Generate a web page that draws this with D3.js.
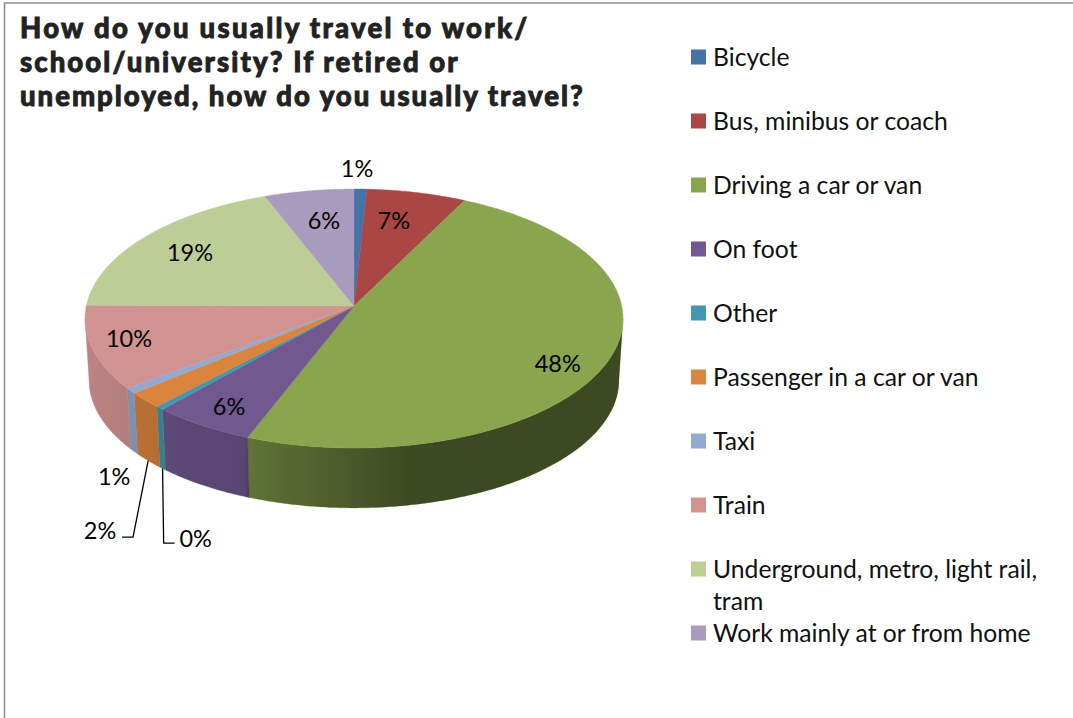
<!DOCTYPE html>
<html><head><meta charset="utf-8">
<script src="https://cdnjs.cloudflare.com/ajax/libs/d3/7.8.5/d3.min.js"></script>
<style>html,body{margin:0;padding:0;background:#fff;overflow:hidden}svg{display:block}</style>
</head><body><svg id="c" width="1073" height="718"></svg>
<script>
// Data
const categories = ["Bicycle","Bus, minibus or coach","Driving a car or van","On foot","Other","Passenger in a car or van","Taxi","Train","Underground, metro, light rail, tram","Work mainly at or from home"];
const values = [0.85,6.55,48.49,5.66,0.45,2.0,0.7,10.4,19.0,5.9];
const colors = ["#4573a7","#aa4644","#89a54e","#71588f","#4298af","#db843d","#93a9cf","#d19392","#bdcd96","#a99bbd"];
const titleLines = ["How do you usually travel to work/","school/university? If retired or","unemployed, how do you usually travel?"];
const legendLines = [["Bicycle"],["Bus, minibus or coach"],["Driving a car or van"],["On foot"],["Other"],["Passenger in a car or van"],["Taxi"],["Train"],["Underground, metro, light rail,","tram"],["Work mainly at or from home"]];
// Label offsets from the rim point at each slice's mid-angle
const labelDx = [-3.5,-23,-51,27,36,-45,-16.5,37,45,15];
const labelDy = [-21,28,3,-19,130,130,86,-9,15,30];
// Leader elbow offsets from the label centre, keyed by slice index
const leaders = {4:{knee:[-32,5],end:[-21,5]},5:{knee:[33,7],end:[22,7]}};

// Layout
const cx=354, cy=306, A=267.7, B=128.3, P=0.0966, wallDrop=62, wallScale=0.985;
const svg=d3.select("#c");
const pie=d3.pie().sort(null).value(d=>d)(values);
const topPt=t=>{const w=1+P*Math.cos(t);return [cx+A*Math.sin(t)/w, cy-B*Math.cos(t)/w];};
const botPt=t=>{const p=topPt(t);return [cx+(p[0]-cx)*wallScale, cy+(p[1]-cy)*wallScale+wallDrop];};
const line=d3.line();
const samples=(a,b,f)=>{const n=Math.max(2,Math.ceil(Math.abs(b-a)/0.01));return d3.range(n+1).map(i=>f(a+(b-a)*i/n));};

// Frame
svg.append("path").attr("d",`M4.5,718V3H1073`).attr("fill","none").attr("stroke","#8e8e8e").attr("stroke-width",1.6);

// Wall shading
const defs=svg.append("defs");
const xs=d3.scaleLinear().domain([85,623]).range([0,1]);
const grad=defs.append("linearGradient").attr("id","shade").attr("gradientUnits","userSpaceOnUse")
  .attr("x1",85).attr("x2",623).attr("y1",0).attr("y2",0);
[[85,.1],[130,.15],[245,.22],[247,.3],[413,.56],[623,.56]].forEach(s=>
  grad.append("stop").attr("offset",xs(s[0])).attr("stop-color","#000").attr("stop-opacity",s[1]));

// Walls (front half of the rim only)
const wallLo=Math.acos(-P), wallHi=2*Math.PI-Math.acos(-P);
const walls=pie.map((d,i)=>{
  const a=Math.max(d.startAngle,wallLo), b=Math.min(d.endAngle,wallHi);
  if(b<=a) return null;
  return {i, path: line(samples(a,b,topPt).concat(samples(b,a,botPt)))+"Z"};
}).filter(Boolean);
const wg=svg.append("g");
wg.selectAll("path.base").data(walls).join("path").attr("class","base").attr("d",d=>d.path)
  .attr("fill",d=>colors[d.i]).attr("stroke",d=>colors[d.i]).attr("stroke-width",.4);
wg.selectAll("path.ov").data(walls).join("path").attr("class","ov").attr("d",d=>d.path).attr("fill","url(#shade)");

// Top face
svg.append("g").selectAll("path").data(pie).join("path")
  .attr("d",d=>line([[cx,cy]].concat(samples(d.startAngle,d.endAngle,topPt)))+"Z")
  .attr("fill",(d,i)=>colors[i]).attr("stroke",(d,i)=>colors[i]).attr("stroke-width",.4);

// Labels
const labelFont="Lato, Carlito, sans-serif";
const mid=d=>(d.startAngle+d.endAngle)/2;
const pos=pie.map((d,i)=>{const p=topPt(mid(d));return [p[0]+labelDx[i],p[1]+labelDy[i]];});
// Leaders
svg.append("g").selectAll("path").data(Object.keys(leaders).map(Number)).join("path")
  .attr("d",i=>{const L=leaders[i],l=pos[i];return line([botPt(mid(pie[i])),[l[0]+L.knee[0],l[1]+L.knee[1]],[l[0]+L.end[0],l[1]+L.end[1]]]);})
  .attr("fill","none").attr("stroke","#000").attr("stroke-width",1.3);
svg.append("g").selectAll("text").data(pie).join("text")
  .attr("x",(d,i)=>pos[i][0]).attr("y",(d,i)=>pos[i][1]+8.5)
  .attr("text-anchor","middle").attr("font-family",labelFont).attr("font-size",23.5).attr("fill","#000")
  .text(d=>d3.format(".0f")(d.value)+"%");

// Title
svg.append("g").selectAll("text").data(titleLines).join("text")
  .attr("x",20).attr("y",(d,i)=>38+i*33.8)
  .attr("font-family","Lato, sans-serif").attr("font-weight",900).attr("font-size",27.5)
  .attr("letter-spacing",(d,i)=>[2.3,2.1,2][i])
  .attr("fill","#222").attr("stroke","#222").attr("stroke-width",.9).text(d=>d);

// Legend
const rowY=d3.scalePoint().domain(d3.range(categories.length)).range([57,633]);
const lg=svg.append("g").selectAll("g").data(categories).join("g");
lg.append("rect").attr("x",691).attr("y",(d,i)=>rowY(i)-7.5).attr("width",15).attr("height",15).attr("fill",(d,i)=>colors[i]);
lg.each(function(d,i){
  d3.select(this).selectAll("text").data(legendLines[i]).join("text")
    .attr("x",713).attr("y",(t,j)=>rowY(i)+9+j*32)
    .attr("font-family",labelFont).attr("font-size",24.7).attr("fill","#111").text(t=>t);
});
</script></body></html>
